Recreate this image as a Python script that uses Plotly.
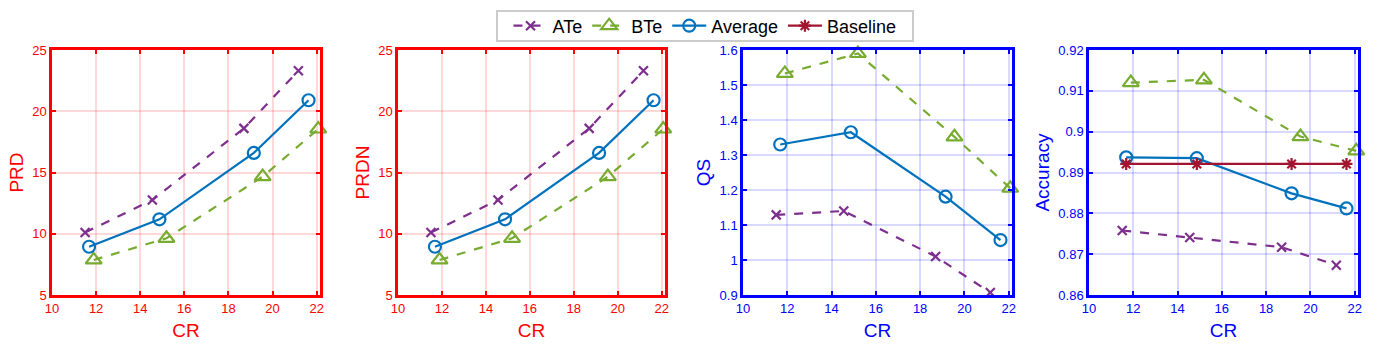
import plotly.graph_objs as go

# CR values (x) for each method
cr_ate = [11.5, 14.55, 18.7, 21.17]
cr_bte = [11.89, 15.19, 19.55, 22.07]
cr_avg = [11.68, 14.87, 19.15, 21.63]
cr_base = [11.68, 14.87, 19.15, 21.63]

# PRD / PRDN
prd_ate = [10.1, 12.76, 18.6, 23.3]
prd_bte = [7.86, 9.63, 14.66, 18.55]
prd_avg = [8.94, 11.18, 16.6, 20.9]

prdn_ate = [10.1, 12.76, 18.6, 23.3]
prdn_bte = [7.86, 9.63, 14.66, 18.55]
prdn_avg = [8.94, 11.18, 16.6, 20.9]

# QS
qs_ate = [1.129, 1.14, 1.01, 0.907]
qs_bte = [1.533, 1.59, 1.352, 1.205]
qs_avg = [1.33, 1.365, 1.181, 1.057]

# Accuracy
acc_ate = [0.8758, 0.8741, 0.8717, 0.8673]
acc_bte = [0.912, 0.9127, 0.8988, 0.8953]
acc_avg = [0.8937, 0.8935, 0.8849, 0.8812]
acc_base = [0.8921, 0.8921, 0.8921, 0.8921]

x_ticks = [10, 12, 14, 16, 18, 20, 22]
prd_ticks = [5, 10, 15, 20, 25]
qs_ticks = [0.9, 1.0, 1.1, 1.2, 1.3, 1.4, 1.5, 1.6]
qs_labels = ['0.9', '1', '1.1', '1.2', '1.3', '1.4', '1.5', '1.6']
acc_ticks = [0.86, 0.87, 0.88, 0.89, 0.9, 0.91, 0.92]
acc_labels = ['0.86', '0.87', '0.88', '0.89', '0.9', '0.91', '0.92']

PURPLE = '#7E2F8E'
GREEN = '#77AC30'
BLUE = '#0072BD'
DRED = '#A2142F'

W, H = 1375, 347
FONT = 'Liberation Sans, Arial, sans-serif'

fig = go.Figure()


def add_series(n, x, y, name, color, dash, symbol, size, show):
    ax = '' if n == 1 else str(n)
    fig.add_trace(go.Scatter(
        x=x, y=y, name=name, mode='lines+markers',
        xaxis='x' + ax, yaxis='y' + ax,
        line=dict(color=color, width=2.2, dash=dash),
        marker=dict(symbol=symbol, size=size, color=color,
                    line=dict(color=color, width=2.2)),
        showlegend=show, legendgroup=name, cliponaxis=False,
    ))


panels = [
    (1, prd_ate, prd_bte, prd_avg, None),
    (2, prdn_ate, prdn_bte, prdn_avg, None),
    (3, qs_ate, qs_bte, qs_avg, None),
    (4, acc_ate, acc_bte, acc_avg, acc_base),
]
for n, a, b, avg, base in panels:
    first = n == 4
    add_series(n, cr_ate, a, 'ATe', PURPLE, 'dash', 'x-thin-open', 9, first)
    add_series(n, cr_bte, b, 'BTe', GREEN, 'dash', 'triangle-up-open', 14, first)
    add_series(n, cr_avg, avg, 'Average', BLUE, 'solid', 'circle-open', 12, first)
    if base is not None:
        add_series(n, cr_base, base, 'Baseline', DRED, 'solid', 'asterisk-open', 10, first)

# panel pixel boxes (left, right) and shared top/bottom
boxes = [(52, 320), (398, 665), (743, 1012), (1089, 1358)]
top, bottom = 50, 295
ydom = [(H - bottom) / H, (H - top) / H]
ytitles = ['PRD', 'PRDN', 'QS', 'Accuracy']
yranges = [[5, 25], [5, 25], [0.9, 1.6], [0.86, 0.92]]
ytickv = [prd_ticks, prd_ticks, qs_ticks, acc_ticks]
ytickt = [[str(t) for t in prd_ticks], [str(t) for t in prd_ticks], qs_labels, acc_labels]
colors = ['#FF0000', '#FF0000', '#0000FF', '#0000FF']
grids = ['rgba(255,0,0,0.15)', 'rgba(255,0,0,0.15)', 'rgba(0,0,255,0.15)', 'rgba(0,0,255,0.15)']

# legend frame (pixels from top-left)
leg_l, leg_r, leg_t, leg_b = 497, 913, 11, 41

layout = dict(
    width=W, height=H, autosize=False,
    margin=dict(l=0, r=0, t=0, b=0),
    paper_bgcolor='white', plot_bgcolor='white',
    font=dict(family=FONT),
    showlegend=True,
    legend=dict(
        orientation='h', x=(leg_l + leg_r) / 2 / W, xanchor='center',
        y=1 - (leg_t + leg_b) / 2 / H, yanchor='middle',
        borderwidth=0, bgcolor='rgba(0,0,0,0)',
        font=dict(size=18, color='black', family=FONT),
        itemwidth=34, tracegroupgap=0, valign='middle',
    ),
    shapes=[dict(
        type='rect', xref='paper', yref='paper',
        x0=leg_l / W, x1=leg_r / W, y0=1 - leg_b / H, y1=1 - leg_t / H,
        line=dict(color='#cccccc', width=2), fillcolor='white', layer='above',
    )],
)

for i, ((l, r), c) in enumerate(zip(boxes, colors)):
    n = i + 1
    ax = '' if n == 1 else str(n)
    layout['xaxis' + ax] = dict(
        domain=[l / W, r / W], anchor='y' + ax, automargin=False,
        range=[10, 22.15], tickvals=x_ticks,
        showline=True, linecolor=c, linewidth=2.5, mirror='ticks',
        ticks='inside', ticklen=4, tickwidth=1.5, tickcolor=c,
        showgrid=True, gridcolor=grids[i], gridwidth=2,
        zeroline=False,
        tickfont=dict(size=13, color=c),
        title=dict(text='CR', font=dict(size=19, color=c), standoff=9),
    )
    layout['yaxis' + ax] = dict(
        domain=ydom, anchor='x' + ax, automargin=False,
        range=yranges[i], tickvals=ytickv[i], ticktext=ytickt[i],
        showline=True, linecolor=c, linewidth=2.5, mirror='ticks',
        ticks='inside', ticklen=4, tickwidth=1.5, tickcolor=c,
        showgrid=True, gridcolor=grids[i], gridwidth=2,
        zeroline=False,
        tickfont=dict(size=13, color=c),
        title=dict(text=ytitles[i], font=dict(size=19, color=c), standoff=4),
    )

fig.update_layout(**layout)
# drop the default page margin so the figure sits at the window's corner
fig.write_html("out.html", config={'displayModeBar': False},
               post_script="document.body.style.margin='0';")
